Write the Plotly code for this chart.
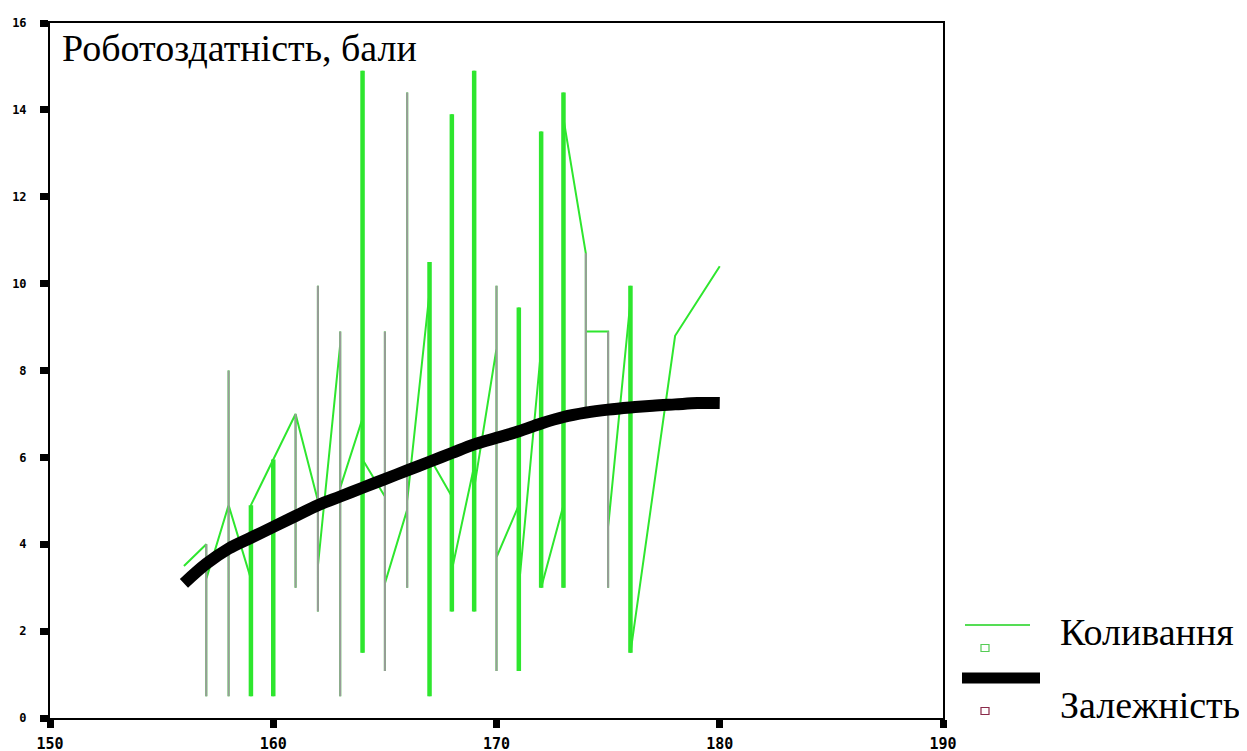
import plotly.graph_objects as go

# ---- data ----
# "Коливання": line path (x sorted, repeated x gives vertical runs)
osc_x = [156,
         157, 157, 157,
         158, 158, 158, 158,
         159, 159, 159,
         160, 160, 160,
         161, 161, 161,
         162, 162, 162, 162,
         163, 163, 163, 163,
         164, 164, 164, 164,
         165, 165, 165, 165,
         166, 166, 166, 166,
         167, 167, 167, 167,
         168, 168, 168, 168,
         169, 169, 169, 169,
         170, 170, 170, 170,
         171, 171, 171, 171,
         172, 172, 172,
         173, 173, 173, 173,
         174, 174, 174,
         175, 175, 175,
         176, 176, 176,
         178, 180]
osc_y = [3.5,
         4.0, 0.5, 3.2,
         4.9, 8.0, 0.5, 4.9,
         3.2, 0.5, 4.9,
         5.95, 0.5, 5.95,
         7.0, 3.0, 7.0,
         5.0, 9.95, 2.45, 3.5,
         8.6, 8.9, 0.5, 5.3,
         6.9, 14.9, 1.5, 5.95,
         5.1, 8.9, 1.08, 3.1,
         4.8, 14.4, 3.0, 5.0,
         9.8, 10.5, 0.5, 6.0,
         5.1, 13.9, 2.45, 3.4,
         5.8, 14.9, 2.45, 5.3,
         8.5, 9.95, 1.08, 3.7,
         4.9, 9.45, 1.08, 3.0,
         8.5, 13.5, 3.0,
         4.9, 14.4, 3.0, 13.8,
         10.7, 7.1, 8.9,
         8.9, 3.0, 4.4,
         9.6, 9.95, 1.5,
         8.8, 10.4]
# x positions whose vertical runs render grey (thin) vs bright green (thick)
grey_runs_x = [157, 158, 161, 162, 163, 165, 166, 170, 174, 175]
green_runs_x = [159, 160, 164, 167, 168, 169, 171, 172, 173, 176]

# "Залежність": smooth fitted curve
fit_x = [156, 157, 158, 159, 160, 161, 162, 163, 164, 165, 166, 167, 168,
         169, 170, 171, 172, 173, 174, 175, 176, 177, 178, 179, 180]
fit_y = [3.1, 3.55, 3.9, 4.15, 4.4, 4.65, 4.9, 5.1, 5.3, 5.5, 5.7, 5.9, 6.1,
         6.3, 6.45, 6.6, 6.78, 6.93, 7.03, 7.1, 7.15, 7.19, 7.22, 7.25, 7.25]

series_names = ["Коливання", "Залежність"]
y_title = "Роботоздатність, бали"
x_ticks = [150, 160, 170, 180, 190]
y_ticks = [0, 2, 4, 6, 8, 10, 12, 14, 16]

GREEN = "#2ee62e"
GREY = "#9a9a9a"


def runs(xs_sel):
    rx, ry = [], []
    for xv in xs_sel:
        ys = [y for x, y in zip(osc_x, osc_y) if x == xv]
        rx += [xv, xv, None]
        ry += [min(ys), max(ys), None]
    return rx, ry


fig = go.Figure()
fig.add_trace(go.Scatter(x=osc_x, y=osc_y, mode="lines", name=series_names[0],
                         line=dict(color=GREEN, width=2), showlegend=False))
gx, gy = runs(grey_runs_x)
fig.add_trace(go.Scatter(x=gx, y=gy, mode="lines", line=dict(color=GREY, width=2),
                         showlegend=False, hoverinfo="skip"))
hx, hy = runs(green_runs_x)
fig.add_trace(go.Scatter(x=hx, y=hy, mode="lines", line=dict(color=GREEN, width=4.5),
                         showlegend=False, hoverinfo="skip"))
fig.add_trace(go.Scatter(x=fit_x, y=fit_y, mode="lines", name=series_names[1],
                         line=dict(color="black", width=12, shape="spline", smoothing=1.0),
                         showlegend=False))

# page offset of the figure (browser body margin) and plot area in page pixels
OFF = 8
L, R, T, B = 50, 943, 23, 718


def px(X):
    return (X - L) / (R - L)


def py(Y):
    return (B - Y) / (B - T)


shapes = [
    dict(type="line", xref="paper", yref="paper", x0=px(965), x1=px(1030),
         y0=py(625), y1=py(625), line=dict(color="#55dd55", width=2)),
    dict(type="rect", xref="paper", yref="paper", xsizemode="pixel", ysizemode="pixel",
         xanchor=px(985), yanchor=py(648), x0=-4, x1=4, y0=-3.5, y1=3.5,
         line=dict(color="#55cc55", width=1.2)),
    dict(type="line", xref="paper", yref="paper", x0=px(962), x1=px(1040),
         y0=py(678), y1=py(678), line=dict(color="black", width=11)),
    dict(type="rect", xref="paper", yref="paper", xsizemode="pixel", ysizemode="pixel",
         xanchor=px(985), yanchor=py(711), x0=-4, x1=4, y0=-3.5, y1=3.5,
         line=dict(color="#8a2a4a", width=1.2)),
]

annotations = [
    dict(text=y_title, xref="paper", yref="paper", x=px(60), y=py(48),
         xanchor="left", yanchor="middle", showarrow=False,
         font=dict(family="Liberation Serif", size=38, color="black")),
    dict(text=series_names[0], xref="paper", yref="paper", x=px(1058), y=py(632),
         xanchor="left", yanchor="middle", showarrow=False,
         font=dict(family="Liberation Serif", size=38, color="black")),
    dict(text=series_names[1], xref="paper", yref="paper", x=px(1058), y=py(705),
         xanchor="left", yanchor="middle", showarrow=False,
         font=dict(family="Liberation Serif", size=38, color="black")),
]

fig.update_layout(
    width=1247, height=751,
    margin=dict(l=L - OFF, r=1247 - (R - OFF), t=T - OFF, b=751 - (B - OFF),
                autoexpand=False),
    paper_bgcolor="white", plot_bgcolor="white",
    showlegend=False,
    shapes=shapes, annotations=annotations,
    xaxis=dict(range=[150, 190], tickvals=x_ticks, ticktext=[str(v) for v in x_ticks],
               showgrid=False, zeroline=False, showline=True, mirror=True,
               linecolor="black", linewidth=2, ticks="outside", ticklen=8,
               tickwidth=7, tickcolor="black", ticklabelstandoff=3, automargin=False,
               tickfont=dict(family="DejaVu Sans Mono", size=15, color="black",
                             weight="bold")),
    yaxis=dict(range=[0, 16], tickvals=y_ticks, ticktext=[str(v) for v in y_ticks],
               showgrid=False, zeroline=False, showline=True, mirror=True,
               linecolor="black", linewidth=2, ticks="outside", ticklen=8,
               tickwidth=7, tickcolor="black", ticklabelstandoff=11, automargin=False,
               tickfont=dict(family="DejaVu Sans Mono", size=12, color="black",
                             weight="bold")),
)

fig.write_html("out.html")
